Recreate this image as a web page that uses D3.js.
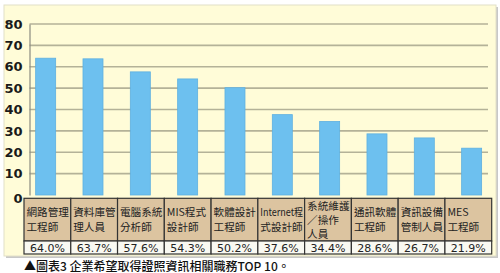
<!DOCTYPE html>
<html>
<head>
<meta charset="utf-8">
<script src="https://cdn.jsdelivr.net/npm/d3@7"></script>
<style>
  body { margin: 0; background: #fff; }
  svg text { font-family: "Noto Sans CJK TC", "DejaVu Sans", sans-serif; }
</style>
</head>
<body>
<script>
// data
var jobs = [
  ["網路管理", "工程師"],
  ["資料庫管", "理人員"],
  ["電腦系統", "分析師"],
  ["MIS程式", "設計師"],
  ["軟體設計", "工程師"],
  ["Internet程", "式設計師"],
  ["系統維護", "／操作", "人員"],
  ["通訊軟體", "工程師"],
  ["資訊設備", "管制人員"],
  ["MES", "工程師"]
];
var pct = [64.0, 63.7, 57.6, 54.3, 50.2, 37.6, 34.4, 28.6, 26.7, 21.9];
var yTicks = [0, 10, 20, 30, 40, 50, 60, 70, 80];
var caption = "▲圖表3 企業希望取得證照資訊相關職務TOP 10。";

var W = 500, H = 273;
var svg = d3.select("body").append("svg")
  .attr("width", W)
  .attr("height", H);

// panel with a soft shadow
svg.append("rect")
  .attr("x", 6).attr("y", 7)
  .attr("width", 492).attr("height", 251)
  .attr("fill", "#c8c8c8");
svg.append("rect")
  .attr("x", 4).attr("y", 5)
  .attr("width", 492).attr("height", 251)
  .attr("fill", "#fffcd8")
  .attr("stroke", "#e2e0c8");

var idx = d3.range(pct.length);

var y = d3.scaleLinear().domain([0, 80]).range([195, 24]);
var xBar = d3.scaleBand().domain(idx).range([22, 495.3]);
var xCell = d3.scaleBand().domain(idx).range([24, 491.7]);

// gridlines
svg.append("g").selectAll("line")
  .data(yTicks.filter(function (d) { return d > 0; }))
  .enter().append("line")
  .attr("x1", 29.5).attr("x2", 488)
  .attr("y1", function (d) { return y(d); })
  .attr("y2", function (d) { return y(d); })
  .attr("stroke", "#b4b298")
  .attr("stroke-width", 1.6);

// bars
svg.append("g").selectAll("rect")
  .data(pct)
  .enter().append("rect")
  .attr("x", function (d, i) { return xBar(i) + xBar.bandwidth() / 2 - 10; })
  .attr("width", 20)
  .attr("y", function (d) { return y(d); })
  .attr("height", function (d) { return y(0) - y(d); })
  .attr("fill", "#6dc0ef")
  .attr("stroke", "#5eb0e0")
  .attr("stroke-width", 0.8);

// y axis
var yAxis = d3.axisLeft(y).tickValues(yTicks).tickSize(0).tickPadding(7);
var ga = svg.append("g").attr("transform", "translate(29.5,0)").call(yAxis);
ga.select(".domain").attr("stroke", "#8a8a80").attr("stroke-width", 1.2);
ga.selectAll("text")
  .attr("font-size", 13)
  .attr("font-weight", "bold")
  .attr("fill", "#1a1a1a")
  .style("font-family", "'DejaVu Sans', sans-serif");
ga.selectAll(".tick").filter(function (d) { return d === 0; })
  .select("text").attr("dy", "0.55em");

// table
var rowTop = 198.3, rowMid = 241, rowBot = 254;
var cells = svg.append("g").selectAll("g")
  .data(idx)
  .enter().append("g");

cells.append("rect")
  .attr("x", function (i) { return xCell(i); })
  .attr("y", rowTop)
  .attr("width", xCell.bandwidth())
  .attr("height", rowMid - rowTop)
  .attr("fill", "#dcc4a0")
  .attr("stroke", "#333")
  .attr("stroke-width", 1.2);

cells.append("rect")
  .attr("x", function (i) { return xCell(i); })
  .attr("y", rowMid)
  .attr("width", xCell.bandwidth())
  .attr("height", rowBot - rowMid)
  .attr("fill", "#f9f9f2")
  .attr("stroke", "#333")
  .attr("stroke-width", 1.2);

var maxW = xCell.bandwidth() - 4;
cells.each(function (i) {
  var lines = jobs[i];
  var g = d3.select(this);
  var lh = lines.length > 2 ? 14 : 15;
  var y0 = lines.length > 2 ? 210 : 216;
  lines.forEach(function (t, k) {
    var tx = g.append("text")
      .attr("x", xCell(i) + 2.5)
      .attr("y", y0 + k * lh)
      .attr("font-size", 10.6)
      .attr("fill", "#222")
      .text(t);
    // squeeze long latin words like the original
    if (tx.node().getComputedTextLength() > maxW) {
      tx.attr("textLength", maxW).attr("lengthAdjust", "spacingAndGlyphs");
    }
  });
  g.append("text")
    .attr("x", xCell(i) + xCell.bandwidth() / 2)
    .attr("y", 251.5)
    .attr("text-anchor", "middle")
    .attr("font-size", 11)
    .attr("fill", "#222")
    .style("font-family", "'DejaVu Sans', sans-serif")
    .text(pct[i].toFixed(1) + "%");
});

// caption
svg.append("text")
  .attr("x", 24)
  .attr("y", 270.5)
  .attr("font-size", 12)
  .attr("font-weight", 500)
  .attr("fill", "#111")
  .text(caption);
</script>
</body>
</html>
